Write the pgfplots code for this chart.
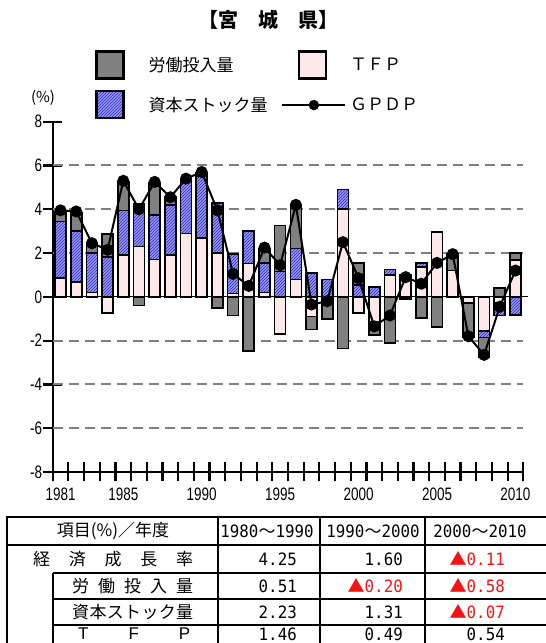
\documentclass[border=0pt]{standalone}
\usepackage{fontspec}
\usepackage{pgfplots}
\pgfplotsset{compat=1.18}
\usepackage{pgfplotstable}
\usetikzlibrary{patterns}

\setmainfont{Liberation Sans}
\newfontfamily\cjk{Noto Sans CJK JP}
\newfontfamily\narrow[FakeStretch=0.75]{Liberation Sans}
\newfontfamily\mono[FakeStretch=0.93]{DejaVu Sans Mono}

\definecolor{laborgray}{RGB}{128,128,128}
\definecolor{capbase}{RGB}{150,150,242}
\definecolor{caphatch}{RGB}{45,45,200}
\definecolor{tfppink}{RGB}{253,233,233}
\definecolor{gridgray}{RGB}{128,128,128}
\definecolor{minusred}{RGB}{240,20,20}

\tikzset{
  laborbar/.style={draw=black, line width=1.6pt, fill=laborgray},
  capbar/.style={draw=black, line width=1.6pt, fill=capbase,
    postaction={pattern=north east lines, pattern color=caphatch}},
  tfpbar/.style={draw=black, line width=1.6pt, fill=tfppink},
}

% growth accounting, Miyagi: TFP, capital stock, labour input, GPDP (%)
\pgfplotstableread{
year tfp cap lab gpdp
1981 0.85 2.60 0.45 3.95
1982 0.67 2.35 0.80 3.90
1983 0.20 1.80 0.45 2.45
1984 -0.73 1.83 1.03 2.15
1985 1.90 2.05 1.30 5.30
1986 2.30 1.95 -0.40 4.00
1987 1.70 2.05 1.45 5.25
1988 1.90 2.30 0.35 4.55
1989 2.90 2.40 0.10 5.40
1990 2.70 2.80 0.15 5.70
1991 2.00 2.30 -0.50 3.95
1992 0.15 1.80 -0.85 1.05
1993 1.52 1.48 -2.47 0.50
1994 0.20 1.35 0.65 2.25
1995 -1.70 1.15 2.10 1.45
1996 0.80 1.40 2.00 4.20
1997 -0.90 1.10 -0.60 -0.35
1998 0.00 0.80 -1.00 -0.20
1999 4.00 0.90 -2.36 2.50
2000 -0.75 0.55 1.00 0.85
2001 -1.15 0.45 -0.60 -1.35
2002 1.00 0.25 -2.10 -0.85
2003 0.95 0.05 -0.10 0.90
2004 1.37 0.18 -0.96 0.60
2005 2.97 0.00 -1.37 1.55
2006 1.20 0.00 0.78 1.95
2007 -0.28 0.00 -1.55 -1.80
2008 -1.55 -0.30 -0.90 -2.65
2009 -0.25 -0.60 0.40 -0.45
2010 1.68 -0.84 0.33 1.20
}\growth

\pgfplotsset{
  panel/.style={
    scale only axis, width=470.6pt, height=350.3pt,
    at={(52.7pt,171pt)}, anchor=south west,
    xmin=1980.5, xmax=2010.5, ymin=-8, ymax=8,
  },
}

\begin{document}
\begin{tikzpicture}[x=1pt,y=1pt]
\useasboundingbox (0,0) rectangle (546,643);
\clip (0,0) rectangle (546,643);

\node[font=\cjk\bfseries\fontsize{20}{20}\selectfont] at (268,623) {【宮　城　県】};
\node[font=\cjk\fontsize{15}{15}\selectfont] at (43,545) {(\%)};

% positive parts of the stacks, with the axes
\begin{axis}[panel,
  ybar stacked, bar width=0.7, clip=false,
  axis x line*=bottom, axis y line*=left,
  every non boxed x axis/.append style={xtick align=inside},
  every non boxed y axis/.append style={ytick align=inside},
  axis line style={line width=2.2pt, -},
  tick style={black, line width=2.2pt},
  major tick length=19pt,
  % inside ticks moved back by half their length so that they straddle the axis
  xtick style={yshift=-9.5pt},
  ytick style={xshift=-9.5pt},
  % ticks on the year boundaries, labels moved onto the bar centres
  xtick={1980.5,1981.5,1982.5,1983.5,1984.5,1985.5,1986.5,1987.5,1988.5,1989.5,1990.5,
         1991.5,1992.5,1993.5,1994.5,1995.5,1996.5,1997.5,1998.5,1999.5,2000.5,
         2001.5,2002.5,2003.5,2004.5,2005.5,2006.5,2007.5,2008.5,2009.5,2010.5},
  xticklabels={1981,,,,1985,,,,,1990,,,,,1995,,,,,2000,,,,,2005,,,,,2010,},
  xticklabel style={xshift=7.84pt, yshift=-12pt},
  yticklabel style={xshift=-7pt},
  ytick={-8,-6,...,8},
  extra y ticks={-6,-4,-2,2,4,6},
  extra y tick labels={},
  extra y tick style={major tick length=0pt, ymajorgrids=true,
    major grid style={gridgray, line width=2pt, dash pattern=on 10pt off 6pt}},
  /pgf/number format/assume math mode=true,
  ticklabel style={font=\narrow\fontsize{18}{18}\selectfont},
]
\addplot[tfpbar] table[x=year, y expr={max(\thisrow{tfp},0)}]{\growth};
\addplot[capbar] table[x=year, y expr={max(\thisrow{cap},0)}]{\growth};
\addplot[laborbar] table[x=year, y expr={max(\thisrow{lab},0)}]{\growth};
\draw[line width=1.2pt] (axis cs:1980.5,0) -- (axis cs:2010.8,0);
\end{axis}

% negative parts of the stacks
\begin{axis}[panel, hide axis, ybar stacked, bar width=0.7]
\addplot[tfpbar] table[x=year, y expr={min(\thisrow{tfp},0)}]{\growth};
\addplot[capbar] table[x=year, y expr={min(\thisrow{cap},0)}]{\growth};
\addplot[laborbar] table[x=year, y expr={min(\thisrow{lab},0)}]{\growth};
\end{axis}

% GPDP line and legend
\begin{axis}[panel, hide axis, clip=false,
  legend columns=2,
  legend cell align=left,
  legend style={at={(axis description cs:0.0899,1.2047)}, anchor=north west,
    draw=none, fill=none, inner sep=0pt, row sep=10pt,
    font=\cjk\fontsize{17}{17}\selectfont, nodes={inner sep=0pt}},
]
\addlegendimage{legend image code/.code={
  \draw[laborbar, line width=2.6pt] (0pt,-13pt) rectangle (27pt,14pt);
  \path (52pt,0pt);}}
\addlegendimage{legend image code/.code={
  \path (-14pt,0pt);
  \draw[tfpbar, line width=2.6pt] (17pt,-13pt) rectangle (44pt,14pt);
  \path (68pt,0pt);}}
\addlegendimage{legend image code/.code={
  \draw[capbar, line width=2.6pt] (0pt,-13pt) rectangle (27pt,14pt);
  \path (52pt,0pt);}}
\addlegendimage{legend image code/.code={
  \path (-14pt,0pt);
  \draw[black, line width=2pt] (0pt,0pt) -- (63pt,0pt);
  \draw[black, mark=*, mark size=5pt] plot coordinates {(32pt,0pt)};
  \path (68pt,0pt);}}
\addplot[black, line width=2pt, mark=*, mark size=5pt, mark options={fill=black}]
  table[x=year, y=gpdp]{\growth};
\legend{労働投入量, ＴＦＰ, 資本ストック量, ＧＰＤＰ}
\end{axis}

% summary table of average growth by decade
\begin{scope}[font=\cjk\fontsize{17}{17}\selectfont, every node/.append style={inner sep=0pt}]
\draw[line width=2.6pt] (7,126) -- (560,126);
\draw[line width=2.6pt] (7,98) -- (560,98);
\draw[line width=1.6pt] (53,70) -- (560,70);
\draw[line width=1.6pt] (53,44) -- (560,44);
\draw[line width=1.6pt] (53,18) -- (560,18);
\draw[line width=2.6pt] (7,127.3) -- (7,-20);
\draw[line width=1.6pt] (53,70) -- (53,-20);
\draw[line width=2.8pt] (218,127.3) -- (218,-20);
\draw[line width=1.6pt] (320,126) -- (320,-20);
\draw[line width=1.6pt] (425,126) -- (425,-20);

\node at (113,112) {項目(\%)／年度};
\node at (267,112) {{\mono 1980}～{\mono 1990}};
\node at (373,112) {{\mono 1990}～{\mono 2000}};
\node at (480,112) {{\mono 2000}～{\mono 2010}};

\node[anchor=west] at (33,84) {\makebox[160pt][s]{経\hfill 済\hfill 成\hfill 長\hfill 率}};
\node[anchor=west] at (72,57) {\makebox[121pt][s]{労\hfill 働\hfill 投\hfill 入\hfill 量}};
\node[anchor=west] at (72,31) {\makebox[121pt][s]{資\hfill 本\hfill ス\hfill ト\hfill ッ\hfill ク\hfill 量}};
\node[anchor=west, font=\fontsize{17}{17}\selectfont] at (78,9) {\makebox[112pt][s]{T\hfill F\hfill P}};

\begin{scope}[every node/.append style={anchor=east}]
\node at (297,84) {\mono 4.25};
\node at (403,84) {\mono 1.60};
\node[text=minusred] at (505,84) {▲{\mono 0.11}};
\node at (297,57) {\mono 0.51};
\node[text=minusred] at (403,57) {▲{\mono 0.20}};
\node[text=minusred] at (505,57) {▲{\mono 0.58}};
\node at (297,31) {\mono 2.23};
\node at (403,31) {\mono 1.31};
\node[text=minusred] at (505,31) {▲{\mono 0.07}};
\node at (297,9) {\mono 1.46};
\node at (403,9) {\mono 0.49};
\node at (505,9) {\mono 0.54};
\end{scope}
\end{scope}
\end{tikzpicture}
\end{document}
